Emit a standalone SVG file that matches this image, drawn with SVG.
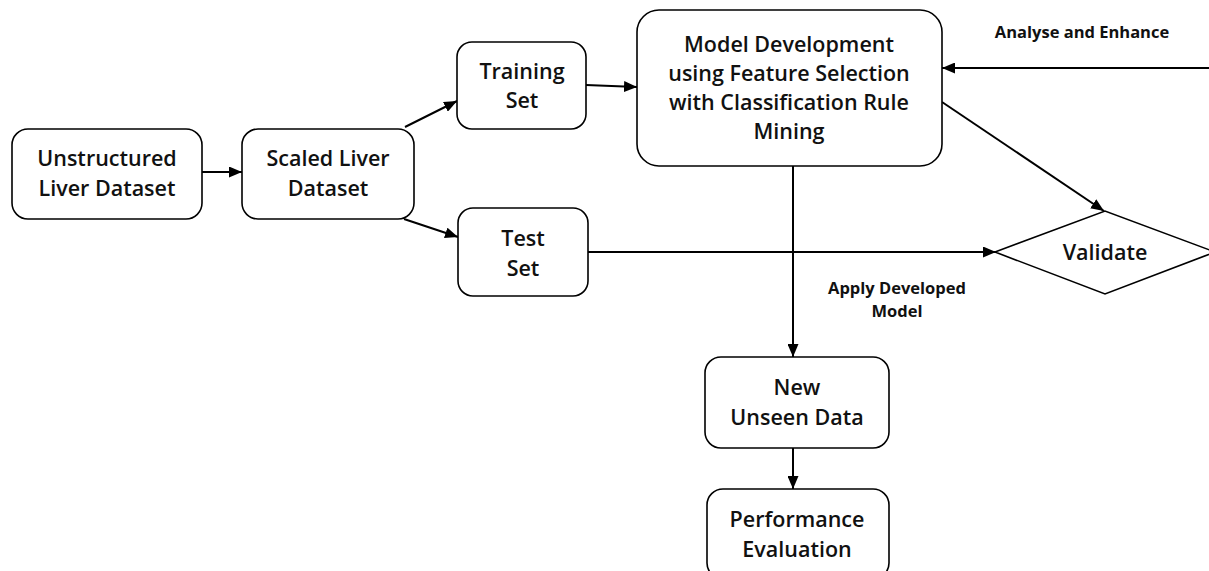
<svg xmlns="http://www.w3.org/2000/svg" width="1209" height="571" viewBox="0 0 1209 571">
<style>
.box{fill:#fff;stroke:#000;stroke-width:1.6}
.t{font-family:"Open Sans","Liberation Sans",sans-serif;font-size:21.5px;font-weight:600;fill:#111;text-anchor:middle}
.s{font-family:"Open Sans","Liberation Sans",sans-serif;font-size:16.5px;font-weight:700;fill:#111;text-anchor:middle}
.c{fill:none;stroke:#000;stroke-width:2}
</style>
<defs>
<marker id="ah" viewBox="0 0 13 11" refX="13" refY="5.5" markerWidth="13" markerHeight="11" markerUnits="userSpaceOnUse" orient="auto">
<path d="M0,0 L13,5.5 L0,11 Z" fill="#000"/>
</marker>
</defs>
<rect width="1209" height="571" fill="#fff"/>
<g id="connectors">
<line class="c" x1="202" y1="172" x2="242" y2="172" marker-end="url(#ah)"/>
<line class="c" x1="405" y1="127" x2="457" y2="101" marker-end="url(#ah)"/>
<line class="c" x1="404" y1="219" x2="458" y2="237" marker-end="url(#ah)"/>
<line class="c" x1="586" y1="85" x2="637" y2="87" marker-end="url(#ah)"/>
<line class="c" x1="588" y1="252" x2="996" y2="252" marker-end="url(#ah)"/>
<line class="c" x1="1209" y1="68" x2="942" y2="68" marker-end="url(#ah)"/>
<line class="c" x1="942" y1="102" x2="1104" y2="211" marker-end="url(#ah)"/>
<line class="c" x1="793" y1="166" x2="793" y2="357" marker-end="url(#ah)"/>
<line class="c" x1="793" y1="448" x2="793" y2="489" marker-end="url(#ah)"/>
<text class="s" x="1082" y="38">Analyse and Enhance</text>
<text class="s" x="897" y="294">Apply Developed</text>
<text class="s" x="897" y="317">Model</text>
</g>
<g id="unstructured">
<rect class="box" x="12" y="129" width="190" height="90" rx="16"/>
<text class="t" x="107" y="166">Unstructured</text>
<text class="t" x="107" y="196">Liver Dataset</text>
</g>
<g id="scaled">
<rect class="box" x="242" y="129" width="172" height="90" rx="16"/>
<text class="t" x="328" y="166">Scaled Liver</text>
<text class="t" x="328" y="196">Dataset</text>
</g>
<g id="training">
<rect class="box" x="457" y="42" width="129" height="87" rx="15"/>
<text class="t" x="522" y="79">Training</text>
<text class="t" x="522" y="108">Set</text>
</g>
<g id="test">
<rect class="box" x="458" y="208" width="130" height="88" rx="15"/>
<text class="t" x="523" y="246">Test</text>
<text class="t" x="523" y="276">Set</text>
</g>
<g id="model">
<rect class="box" x="637" y="10" width="305" height="156" rx="22"/>
<text class="t" x="789" y="52">Model Development</text>
<text class="t" x="789" y="81">using Feature Selection</text>
<text class="t" x="789" y="110">with Classification Rule</text>
<text class="t" x="789" y="139">Mining</text>
</g>
<g id="validate">
<polygon class="box" points="995,252 1105,211 1215,252 1105,294"/>
<text class="t" x="1105" y="260">Validate</text>
</g>
<g id="unseen">
<rect class="box" x="705" y="357" width="184" height="91" rx="16"/>
<text class="t" x="797" y="395">New</text>
<text class="t" x="797" y="425">Unseen Data</text>
</g>
<g id="performance">
<rect class="box" x="707" y="489" width="182" height="90" rx="16"/>
<text class="t" x="797" y="527">Performance</text>
<text class="t" x="797" y="557">Evaluation</text>
</g>
</svg>
